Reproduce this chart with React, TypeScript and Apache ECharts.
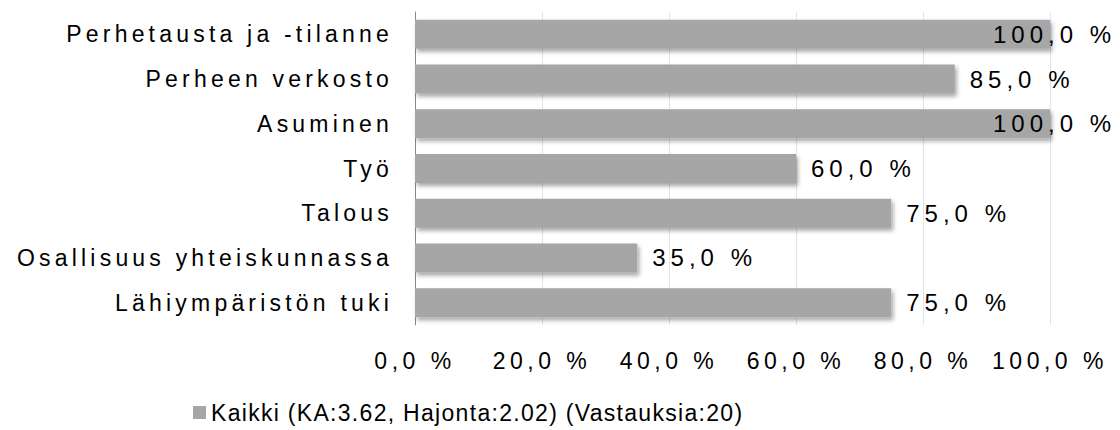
import React, { useEffect, useRef } from "react";
import * as echarts from "echarts";

const categories = [
  "Perhetausta ja -tilanne",
  "Perheen verkosto",
  "Asuminen",
  "Työ",
  "Talous",
  "Osallisuus yhteiskunnassa",
  "Lähiympäristön tuki",
];
const values = [100, 85, 100, 60, 75, 35, 75];
const seriesName = "Kaikki (KA:3.62, Hajonta:2.02) (Vastauksia:20)";
const axisMin = 0;
const axisMax = 100;
const axisStep = 20;

const fmt = (v: number) => v.toFixed(1).replace(".", ",") + " %";

export default function App() {
  const ref = useRef<HTMLDivElement>(null);
  useEffect(() => {
    if (!ref.current) return;
    const chart = echarts.init(ref.current, undefined, { renderer: "svg" });
    const font = "Liberation Sans, Arial, sans-serif";
    chart.setOption({
      animation: false,
      grid: { left: 415, right: 70, top: 12, bottom: 105, containLabel: false },
      legend: {
        show: true,
        left: 188,
        top: 396,
        itemWidth: 13,
        itemHeight: 13,
        itemGap: 10,
        icon: "rect",
        textStyle: { fontFamily: font, fontSize: 23, color: "#000" },
        data: [seriesName],
      },
      xAxis: {
        type: "value",
        min: axisMin,
        max: axisMax,
        interval: axisStep,
        axisLine: { show: false },
        axisTick: { show: false },
        splitLine: { show: true, lineStyle: { color: "#dce4ee", width: 1 } },
        axisLabel: {
          margin: 24,
          fontFamily: font,
          fontSize: 23,
          color: "#000",
          formatter: (v: number) => fmt(v),
        },
      },
      yAxis: {
        type: "category",
        data: categories,
        inverse: true,
        axisLine: { show: true, lineStyle: { color: "#888", width: 1 } },
        axisTick: { show: false },
        axisLabel: { margin: 22, fontFamily: font, fontSize: 23, color: "#000" },
      },
      series: [
        {
          name: seriesName,
          type: "bar",
          barWidth: 29,
          data: values.map((v) => ({
            value: v,
            label: v >= 100 ? { offset: [-72, 0] } : undefined,
          })),
          itemStyle: {
            color: "#a6a6a6",
            shadowColor: "rgba(0,0,0,0.35)",
            shadowBlur: 4,
            shadowOffsetX: 2,
            shadowOffsetY: 3,
          },
          label: {
            show: true,
            position: "right",
            distance: 15,
            fontFamily: font,
            fontSize: 24,
            color: "#000",
            formatter: (p: any) => fmt(p.value),
          },
        },
      ],
    });
    const applySpacing = () => {
      const el = ref.current;
      if (!el) return;
      const top0 = el.getBoundingClientRect().top;
      el.querySelectorAll("text").forEach((t) => {
        const s = t.textContent || "";
        const y = t.getBoundingClientRect().top - top0;
        let sp = "4.2";
        if (s.startsWith("Kaikki")) sp = "1.3";
        else if (s.endsWith("%")) sp = y > 335 ? "4.5" : "5";
        t.setAttribute("letter-spacing", sp);
      });
    };
    applySpacing();
    chart.on("rendered", applySpacing);
    return () => chart.dispose();
  }, []);
  return <div ref={ref} style={{ width: 1120, height: 430, position: "absolute", left: 0, top: 0 }} />;
}
